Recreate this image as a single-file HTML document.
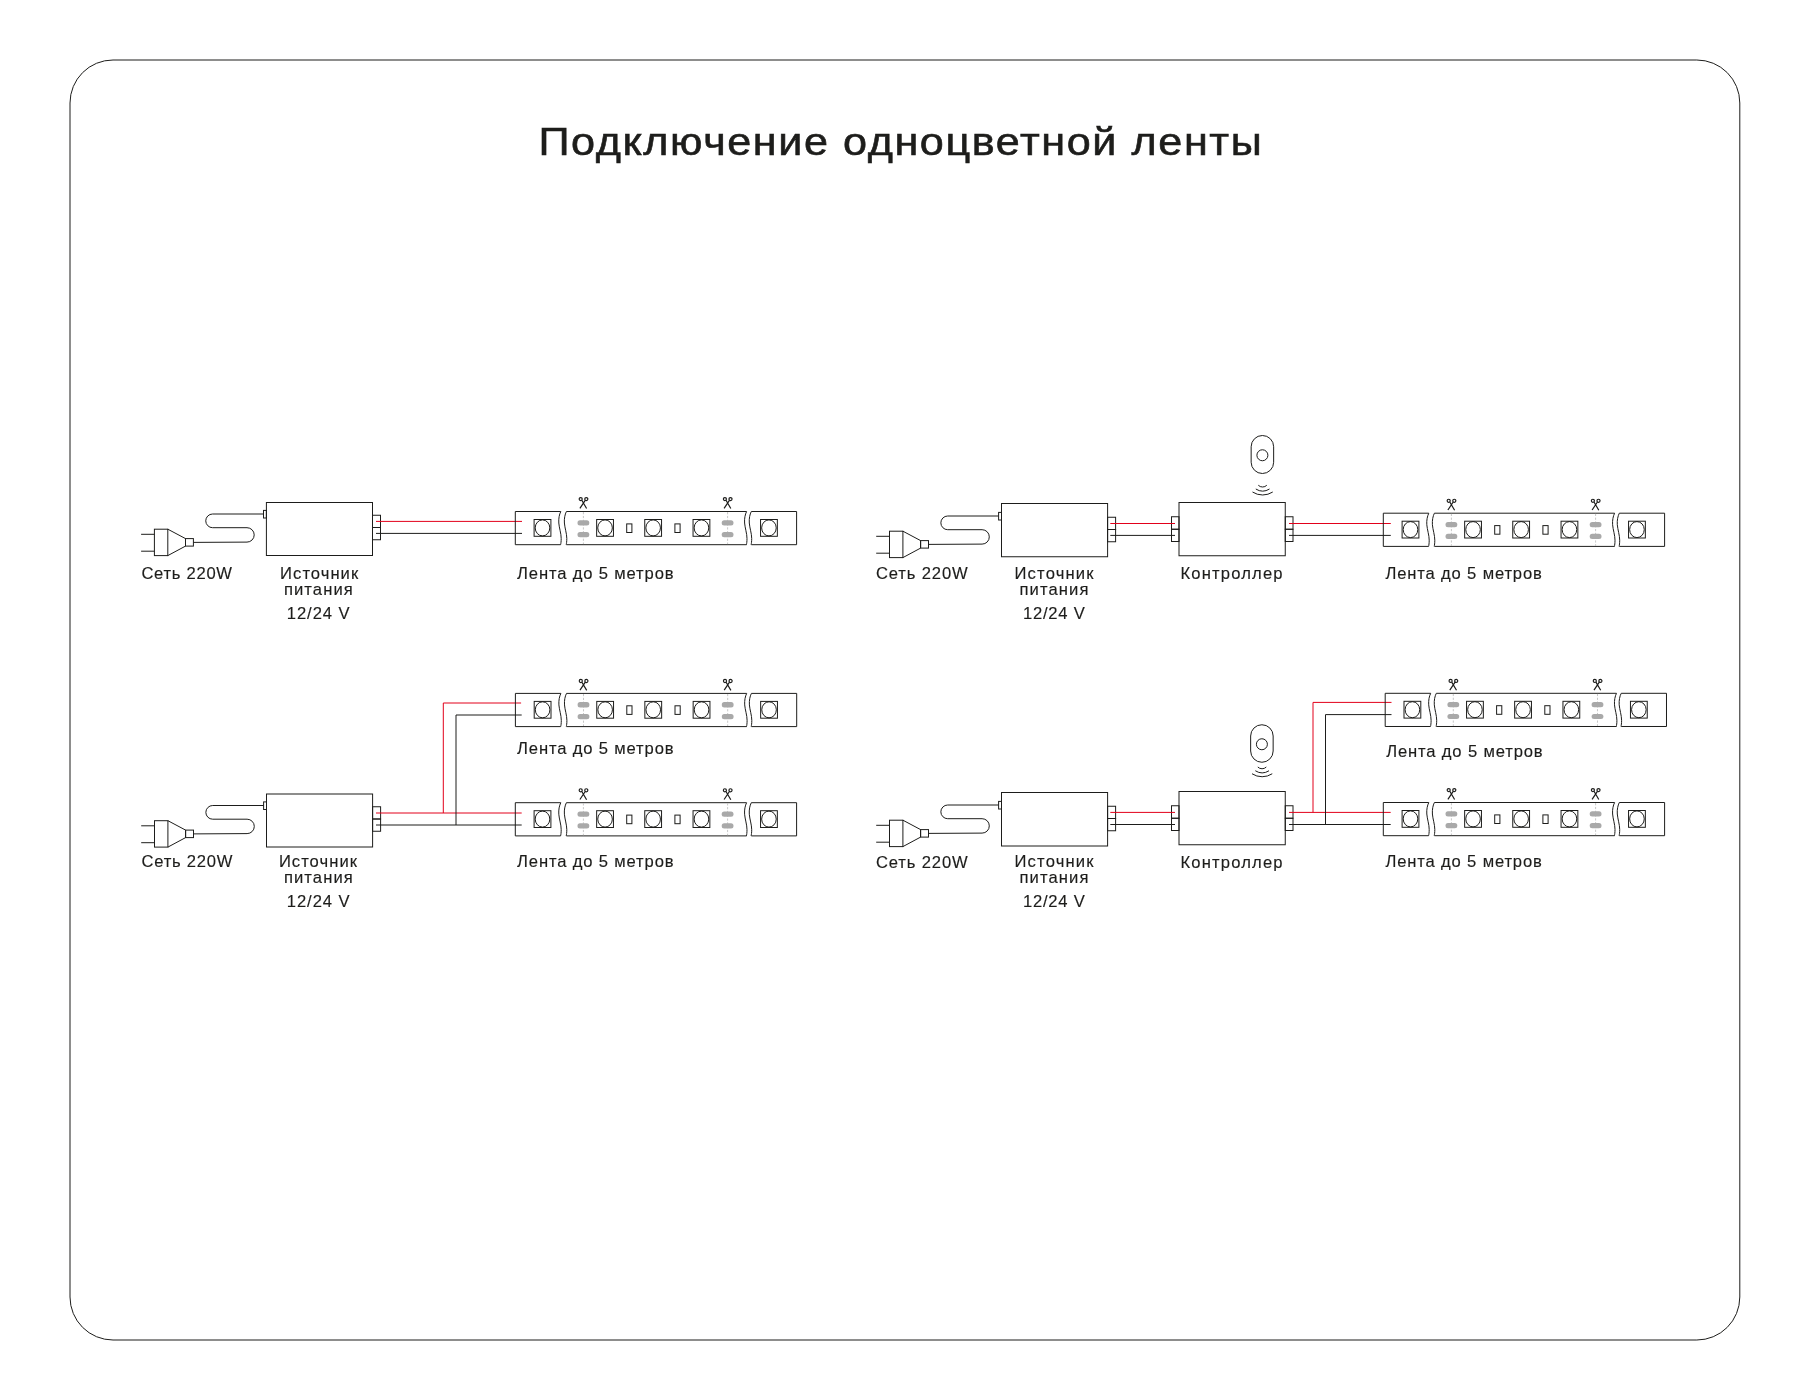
<!DOCTYPE html>
<html><head><meta charset="utf-8"><title>Подключение одноцветной ленты</title>
<style>
html,body{margin:0;padding:0;background:#fff;}
body{width:1800px;height:1400px;overflow:hidden;}
svg{display:block;}
text{font-family:"Liberation Sans", sans-serif;fill:#1d1d1b;}
.txt{opacity:0.999;}
</style></head><body>
<svg width="1800" height="1400" viewBox="0 0 1800 1400">
<g fill="none" stroke="#1d1d1b" stroke-width="1.0">
<rect x="70" y="60" width="1669.8" height="1280" rx="43" fill="none" stroke="#1d1d1b" stroke-width="1"/>
<g transform="translate(266.4,502.5)">
<path d="M-125.3,31.8 H-112 M-125.3,48.7 H-112"/>
<rect x="-112" y="26.7" width="13.4" height="26.4"/>
<path d="M-98.6,26.7 L-80.9,36.1 V43.6 L-98.6,53.1"/>
<rect x="-80.9" y="36.1" width="7.9" height="7.5"/>
<path d="M-73,39.9 L-19.4,39.6 A7.2,7.2 0 0 0 -19.4,25.2 L-53.8,25.2 A6.85,6.85 0 0 1 -53.8,11.5 L-2.9,11.5"/>
<rect x="-2.9" y="7.9" width="2.9" height="7.6"/>
<rect x="0" y="0" width="106.1" height="53"/>
<rect x="106.1" y="12.75" width="8" height="12.25"/>
<rect x="106.1" y="25" width="8" height="12.25"/>
</g>
<path d="M376,521.4 H522" stroke="#e2001a"/>
<path d="M376,533.4 H522" stroke="#1d1d1b"/>
<g transform="translate(515.3,511.5)"><path d="M45.5,0 H0 V33.2 H45.3"/>
<path d="M45.5,0 C44,3 43.2,7 43.5,11.5 C43.9,16.5 45.9,22 45.9,27 C45.9,30 45.6,32 45.3,33.2"/>
<path d="M51.1,0 H231.3 M51.1,33.2 H231.3"/>
<path d="M51.1,0 C49.6,3 48.8,7 49.1,11.5 C49.5,16.5 51.5,22 51.5,27 C51.5,30 51.2,32 50.9,33.2"/>
<path d="M231.3,0 C229.8,3 229,7 229.3,11.5 C229.7,16.5 231.7,22 231.7,27 C231.7,30 231.4,32 231.1,33.2"/>
<path d="M236,0 H281.3 V33.2 H236"/>
<path d="M236,0 C234.5,3 233.7,7 234,11.5 C234.4,16.5 236.4,22 236.4,27 C236.4,30 236.1,32 235.8,33.2"/>
<rect x="18.8" y="8" width="16.8" height="16.8"/>
<ellipse cx="27.2" cy="16.4" rx="7.3" ry="8.0"/>
<rect x="81.35" y="8" width="16.8" height="16.8"/>
<ellipse cx="89.75" cy="16.4" rx="7.3" ry="8.0"/>
<rect x="129.45" y="8" width="16.8" height="16.8"/>
<ellipse cx="137.85" cy="16.4" rx="7.3" ry="8.0"/>
<rect x="177.75" y="8" width="16.8" height="16.8"/>
<ellipse cx="186.15" cy="16.4" rx="7.3" ry="8.0"/>
<rect x="245.25" y="8" width="16.8" height="16.8"/>
<ellipse cx="253.65" cy="16.4" rx="7.3" ry="8.0"/>
<rect x="111.4" y="12.4" width="5.2" height="8.6"/>
<rect x="159.6" y="12.4" width="5.2" height="8.6"/>
<line x1="68.1" y1="0.6" x2="68.1" y2="32.6" stroke="#b9b9b9" stroke-width="0.8" stroke-dasharray="2.2,1.6"/>
<rect x="62.2" y="8.7" width="11.8" height="5.3" rx="2.5" fill="#a9a9a9" stroke="none"/>
<rect x="62.2" y="20.6" width="11.8" height="5.2" rx="2.5" fill="#a9a9a9" stroke="none"/>
<g transform="translate(68.1,0)" stroke-width="1.2"><circle cx="-2.7" cy="-12.4" r="1.55"/><circle cx="2.9" cy="-12.4" r="1.55"/><path d="M-1.6,-11.2 L3.2,-3.0 M1.8,-11.2 L-3.5,-3.2"/></g>
<line x1="212.3" y1="0.6" x2="212.3" y2="32.6" stroke="#b9b9b9" stroke-width="0.8" stroke-dasharray="2.2,1.6"/>
<rect x="206.4" y="8.7" width="11.8" height="5.3" rx="2.5" fill="#a9a9a9" stroke="none"/>
<rect x="206.4" y="20.6" width="11.8" height="5.2" rx="2.5" fill="#a9a9a9" stroke="none"/>
<g transform="translate(212.3,0)" stroke-width="1.2"><circle cx="-2.7" cy="-12.4" r="1.55"/><circle cx="2.9" cy="-12.4" r="1.55"/><path d="M-1.6,-11.2 L3.2,-3.0 M1.8,-11.2 L-3.5,-3.2"/></g></g>
<g transform="translate(1001.5,503.5)">
<path d="M-125.3,32.8 H-112 M-125.3,49.7 H-112"/>
<rect x="-112" y="27.7" width="13.4" height="26.4"/>
<path d="M-98.6,27.7 L-80.9,37.1 V44.6 L-98.6,54.1"/>
<rect x="-80.9" y="37.1" width="7.9" height="7.5"/>
<path d="M-73,40.9 L-19.4,40.6 A7.2,7.2 0 0 0 -19.4,26.2 L-53.8,26.2 A6.85,6.85 0 0 1 -53.8,12.5 L-2.9,12.5"/>
<rect x="-2.9" y="8.9" width="2.9" height="7.6"/>
<rect x="0" y="0" width="106.1" height="53.25"/>
<rect x="106.1" y="13.75" width="8" height="12.25"/>
<rect x="106.1" y="26" width="8" height="12.25"/>
</g>
<g transform="translate(1179,502.5)">
<rect x="0" y="0" width="106.25" height="53.25"/>
<rect x="-7.5" y="14.25" width="7.5" height="12.5"/>
<rect x="-7.5" y="26.75" width="7.5" height="12.25"/>
<rect x="106.25" y="14.25" width="7.75" height="12.5"/>
<rect x="106.25" y="26.75" width="7.75" height="12.25"/>
</g>
<g transform="translate(1262.4,435.5)">
<rect x="-11.25" y="0" width="22.5" height="38" rx="11.25"/>
<circle cx="0" cy="19.76" r="5.5"/>
<g transform="translate(0,0)">
<path d="M-4.1,49.75 A6,6 0 0 0 4.4,49.75"/>
<path d="M-6.6,53.5 A12.8,12.8 0 0 0 7.1,53.5"/>
<path d="M-9.9,56.5 A18.6,18.6 0 0 0 10.35,56.5"/>
</g></g>
<path d="M1110.3,523.5 H1175 M1289,523.5 H1390.8" stroke="#e2001a"/>
<path d="M1110.3,535.4 H1175 M1289,535.4 H1390.8" stroke="#1d1d1b"/>
<g transform="translate(1383.3,513.2)"><path d="M45.5,0 H0 V33.2 H45.3"/>
<path d="M45.5,0 C44,3 43.2,7 43.5,11.5 C43.9,16.5 45.9,22 45.9,27 C45.9,30 45.6,32 45.3,33.2"/>
<path d="M51.1,0 H231.3 M51.1,33.2 H231.3"/>
<path d="M51.1,0 C49.6,3 48.8,7 49.1,11.5 C49.5,16.5 51.5,22 51.5,27 C51.5,30 51.2,32 50.9,33.2"/>
<path d="M231.3,0 C229.8,3 229,7 229.3,11.5 C229.7,16.5 231.7,22 231.7,27 C231.7,30 231.4,32 231.1,33.2"/>
<path d="M236,0 H281.3 V33.2 H236"/>
<path d="M236,0 C234.5,3 233.7,7 234,11.5 C234.4,16.5 236.4,22 236.4,27 C236.4,30 236.1,32 235.8,33.2"/>
<rect x="18.8" y="8" width="16.8" height="16.8"/>
<ellipse cx="27.2" cy="16.4" rx="7.3" ry="8.0"/>
<rect x="81.35" y="8" width="16.8" height="16.8"/>
<ellipse cx="89.75" cy="16.4" rx="7.3" ry="8.0"/>
<rect x="129.45" y="8" width="16.8" height="16.8"/>
<ellipse cx="137.85" cy="16.4" rx="7.3" ry="8.0"/>
<rect x="177.75" y="8" width="16.8" height="16.8"/>
<ellipse cx="186.15" cy="16.4" rx="7.3" ry="8.0"/>
<rect x="245.25" y="8" width="16.8" height="16.8"/>
<ellipse cx="253.65" cy="16.4" rx="7.3" ry="8.0"/>
<rect x="111.4" y="12.4" width="5.2" height="8.6"/>
<rect x="159.6" y="12.4" width="5.2" height="8.6"/>
<line x1="68.1" y1="0.6" x2="68.1" y2="32.6" stroke="#b9b9b9" stroke-width="0.8" stroke-dasharray="2.2,1.6"/>
<rect x="62.2" y="8.7" width="11.8" height="5.3" rx="2.5" fill="#a9a9a9" stroke="none"/>
<rect x="62.2" y="20.6" width="11.8" height="5.2" rx="2.5" fill="#a9a9a9" stroke="none"/>
<g transform="translate(68.1,0)" stroke-width="1.2"><circle cx="-2.7" cy="-12.4" r="1.55"/><circle cx="2.9" cy="-12.4" r="1.55"/><path d="M-1.6,-11.2 L3.2,-3.0 M1.8,-11.2 L-3.5,-3.2"/></g>
<line x1="212.3" y1="0.6" x2="212.3" y2="32.6" stroke="#b9b9b9" stroke-width="0.8" stroke-dasharray="2.2,1.6"/>
<rect x="206.4" y="8.7" width="11.8" height="5.3" rx="2.5" fill="#a9a9a9" stroke="none"/>
<rect x="206.4" y="20.6" width="11.8" height="5.2" rx="2.5" fill="#a9a9a9" stroke="none"/>
<g transform="translate(212.3,0)" stroke-width="1.2"><circle cx="-2.7" cy="-12.4" r="1.55"/><circle cx="2.9" cy="-12.4" r="1.55"/><path d="M-1.6,-11.2 L3.2,-3.0 M1.8,-11.2 L-3.5,-3.2"/></g></g>
<g transform="translate(266.5,794)">
<path d="M-125.3,31.8 H-112 M-125.3,48.7 H-112"/>
<rect x="-112" y="26.7" width="13.4" height="26.4"/>
<path d="M-98.6,26.7 L-80.9,36.1 V43.6 L-98.6,53.1"/>
<rect x="-80.9" y="36.1" width="7.9" height="7.5"/>
<path d="M-73,39.9 L-19.4,39.6 A7.2,7.2 0 0 0 -19.4,25.2 L-53.8,25.2 A6.85,6.85 0 0 1 -53.8,11.5 L-2.9,11.5"/>
<rect x="-2.9" y="7.9" width="2.9" height="7.6"/>
<rect x="0" y="0" width="106.1" height="53"/>
<rect x="106.1" y="12.75" width="8" height="12.25"/>
<rect x="106.1" y="25" width="8" height="12.25"/>
</g>
<path d="M376,813 H521.7 M443.3,813 V703 H521.1" stroke="#e2001a"/>
<path d="M376,825 H521.7 M456,825 V715 H521.7" stroke="#1d1d1b"/>
<g transform="translate(515.4,693.4)"><path d="M45.5,0 H0 V33.2 H45.3"/>
<path d="M45.5,0 C44,3 43.2,7 43.5,11.5 C43.9,16.5 45.9,22 45.9,27 C45.9,30 45.6,32 45.3,33.2"/>
<path d="M51.1,0 H231.3 M51.1,33.2 H231.3"/>
<path d="M51.1,0 C49.6,3 48.8,7 49.1,11.5 C49.5,16.5 51.5,22 51.5,27 C51.5,30 51.2,32 50.9,33.2"/>
<path d="M231.3,0 C229.8,3 229,7 229.3,11.5 C229.7,16.5 231.7,22 231.7,27 C231.7,30 231.4,32 231.1,33.2"/>
<path d="M236,0 H281.3 V33.2 H236"/>
<path d="M236,0 C234.5,3 233.7,7 234,11.5 C234.4,16.5 236.4,22 236.4,27 C236.4,30 236.1,32 235.8,33.2"/>
<rect x="18.8" y="8" width="16.8" height="16.8"/>
<ellipse cx="27.2" cy="16.4" rx="7.3" ry="8.0"/>
<rect x="81.35" y="8" width="16.8" height="16.8"/>
<ellipse cx="89.75" cy="16.4" rx="7.3" ry="8.0"/>
<rect x="129.45" y="8" width="16.8" height="16.8"/>
<ellipse cx="137.85" cy="16.4" rx="7.3" ry="8.0"/>
<rect x="177.75" y="8" width="16.8" height="16.8"/>
<ellipse cx="186.15" cy="16.4" rx="7.3" ry="8.0"/>
<rect x="245.25" y="8" width="16.8" height="16.8"/>
<ellipse cx="253.65" cy="16.4" rx="7.3" ry="8.0"/>
<rect x="111.4" y="12.4" width="5.2" height="8.6"/>
<rect x="159.6" y="12.4" width="5.2" height="8.6"/>
<line x1="68.1" y1="0.6" x2="68.1" y2="32.6" stroke="#b9b9b9" stroke-width="0.8" stroke-dasharray="2.2,1.6"/>
<rect x="62.2" y="8.7" width="11.8" height="5.3" rx="2.5" fill="#a9a9a9" stroke="none"/>
<rect x="62.2" y="20.6" width="11.8" height="5.2" rx="2.5" fill="#a9a9a9" stroke="none"/>
<g transform="translate(68.1,0)" stroke-width="1.2"><circle cx="-2.7" cy="-12.4" r="1.55"/><circle cx="2.9" cy="-12.4" r="1.55"/><path d="M-1.6,-11.2 L3.2,-3.0 M1.8,-11.2 L-3.5,-3.2"/></g>
<line x1="212.3" y1="0.6" x2="212.3" y2="32.6" stroke="#b9b9b9" stroke-width="0.8" stroke-dasharray="2.2,1.6"/>
<rect x="206.4" y="8.7" width="11.8" height="5.3" rx="2.5" fill="#a9a9a9" stroke="none"/>
<rect x="206.4" y="20.6" width="11.8" height="5.2" rx="2.5" fill="#a9a9a9" stroke="none"/>
<g transform="translate(212.3,0)" stroke-width="1.2"><circle cx="-2.7" cy="-12.4" r="1.55"/><circle cx="2.9" cy="-12.4" r="1.55"/><path d="M-1.6,-11.2 L3.2,-3.0 M1.8,-11.2 L-3.5,-3.2"/></g></g>
<g transform="translate(515.3,802.7)"><path d="M45.5,0 H0 V33.2 H45.3"/>
<path d="M45.5,0 C44,3 43.2,7 43.5,11.5 C43.9,16.5 45.9,22 45.9,27 C45.9,30 45.6,32 45.3,33.2"/>
<path d="M51.1,0 H231.3 M51.1,33.2 H231.3"/>
<path d="M51.1,0 C49.6,3 48.8,7 49.1,11.5 C49.5,16.5 51.5,22 51.5,27 C51.5,30 51.2,32 50.9,33.2"/>
<path d="M231.3,0 C229.8,3 229,7 229.3,11.5 C229.7,16.5 231.7,22 231.7,27 C231.7,30 231.4,32 231.1,33.2"/>
<path d="M236,0 H281.3 V33.2 H236"/>
<path d="M236,0 C234.5,3 233.7,7 234,11.5 C234.4,16.5 236.4,22 236.4,27 C236.4,30 236.1,32 235.8,33.2"/>
<rect x="18.8" y="8" width="16.8" height="16.8"/>
<ellipse cx="27.2" cy="16.4" rx="7.3" ry="8.0"/>
<rect x="81.35" y="8" width="16.8" height="16.8"/>
<ellipse cx="89.75" cy="16.4" rx="7.3" ry="8.0"/>
<rect x="129.45" y="8" width="16.8" height="16.8"/>
<ellipse cx="137.85" cy="16.4" rx="7.3" ry="8.0"/>
<rect x="177.75" y="8" width="16.8" height="16.8"/>
<ellipse cx="186.15" cy="16.4" rx="7.3" ry="8.0"/>
<rect x="245.25" y="8" width="16.8" height="16.8"/>
<ellipse cx="253.65" cy="16.4" rx="7.3" ry="8.0"/>
<rect x="111.4" y="12.4" width="5.2" height="8.6"/>
<rect x="159.6" y="12.4" width="5.2" height="8.6"/>
<line x1="68.1" y1="0.6" x2="68.1" y2="32.6" stroke="#b9b9b9" stroke-width="0.8" stroke-dasharray="2.2,1.6"/>
<rect x="62.2" y="8.7" width="11.8" height="5.3" rx="2.5" fill="#a9a9a9" stroke="none"/>
<rect x="62.2" y="20.6" width="11.8" height="5.2" rx="2.5" fill="#a9a9a9" stroke="none"/>
<g transform="translate(68.1,0)" stroke-width="1.2"><circle cx="-2.7" cy="-12.4" r="1.55"/><circle cx="2.9" cy="-12.4" r="1.55"/><path d="M-1.6,-11.2 L3.2,-3.0 M1.8,-11.2 L-3.5,-3.2"/></g>
<line x1="212.3" y1="0.6" x2="212.3" y2="32.6" stroke="#b9b9b9" stroke-width="0.8" stroke-dasharray="2.2,1.6"/>
<rect x="206.4" y="8.7" width="11.8" height="5.3" rx="2.5" fill="#a9a9a9" stroke="none"/>
<rect x="206.4" y="20.6" width="11.8" height="5.2" rx="2.5" fill="#a9a9a9" stroke="none"/>
<g transform="translate(212.3,0)" stroke-width="1.2"><circle cx="-2.7" cy="-12.4" r="1.55"/><circle cx="2.9" cy="-12.4" r="1.55"/><path d="M-1.6,-11.2 L3.2,-3.0 M1.8,-11.2 L-3.5,-3.2"/></g></g>
<g transform="translate(1001.5,792.5)">
<path d="M-125.3,32.8 H-112 M-125.3,49.7 H-112"/>
<rect x="-112" y="27.7" width="13.4" height="26.4"/>
<path d="M-98.6,27.7 L-80.9,37.1 V44.6 L-98.6,54.1"/>
<rect x="-80.9" y="37.1" width="7.9" height="7.5"/>
<path d="M-73,40.9 L-19.4,40.6 A7.2,7.2 0 0 0 -19.4,26.2 L-53.8,26.2 A6.85,6.85 0 0 1 -53.8,12.5 L-2.9,12.5"/>
<rect x="-2.9" y="8.9" width="2.9" height="7.6"/>
<rect x="0" y="0" width="106.1" height="53.5"/>
<rect x="106.1" y="13.75" width="8" height="12.25"/>
<rect x="106.1" y="26" width="8" height="12.25"/>
</g>
<g transform="translate(1179,791.5)">
<rect x="0" y="0" width="106.25" height="53.25"/>
<rect x="-7.5" y="14.25" width="7.5" height="12.5"/>
<rect x="-7.5" y="26.75" width="7.5" height="12.25"/>
<rect x="106.25" y="14.25" width="7.75" height="12.5"/>
<rect x="106.25" y="26.75" width="7.75" height="12.25"/>
</g>
<g transform="translate(1261.9,724.75)">
<rect x="-11.25" y="0" width="22.5" height="37.5" rx="11.25"/>
<circle cx="0" cy="19.5" r="5.5"/>
<g transform="translate(0,-7.5)">
<path d="M-4.1,49.75 A6,6 0 0 0 4.4,49.75"/>
<path d="M-6.6,53.5 A12.8,12.8 0 0 0 7.1,53.5"/>
<path d="M-9.9,56.5 A18.6,18.6 0 0 0 10.35,56.5"/>
</g></g>
<path d="M1110.3,812.4 H1175 M1289,812.4 H1390.7 M1313,812.4 V702.4 H1391.5" stroke="#e2001a"/>
<path d="M1110.3,824.5 H1175 M1289,824.5 H1390.7 M1325.5,824.5 V714.6 H1391.5" stroke="#1d1d1b"/>
<g transform="translate(1385.2,693.3)"><path d="M45.5,0 H0 V33.2 H45.3"/>
<path d="M45.5,0 C44,3 43.2,7 43.5,11.5 C43.9,16.5 45.9,22 45.9,27 C45.9,30 45.6,32 45.3,33.2"/>
<path d="M51.1,0 H231.3 M51.1,33.2 H231.3"/>
<path d="M51.1,0 C49.6,3 48.8,7 49.1,11.5 C49.5,16.5 51.5,22 51.5,27 C51.5,30 51.2,32 50.9,33.2"/>
<path d="M231.3,0 C229.8,3 229,7 229.3,11.5 C229.7,16.5 231.7,22 231.7,27 C231.7,30 231.4,32 231.1,33.2"/>
<path d="M236,0 H281.3 V33.2 H236"/>
<path d="M236,0 C234.5,3 233.7,7 234,11.5 C234.4,16.5 236.4,22 236.4,27 C236.4,30 236.1,32 235.8,33.2"/>
<rect x="18.8" y="8" width="16.8" height="16.8"/>
<ellipse cx="27.2" cy="16.4" rx="7.3" ry="8.0"/>
<rect x="81.35" y="8" width="16.8" height="16.8"/>
<ellipse cx="89.75" cy="16.4" rx="7.3" ry="8.0"/>
<rect x="129.45" y="8" width="16.8" height="16.8"/>
<ellipse cx="137.85" cy="16.4" rx="7.3" ry="8.0"/>
<rect x="177.75" y="8" width="16.8" height="16.8"/>
<ellipse cx="186.15" cy="16.4" rx="7.3" ry="8.0"/>
<rect x="245.25" y="8" width="16.8" height="16.8"/>
<ellipse cx="253.65" cy="16.4" rx="7.3" ry="8.0"/>
<rect x="111.4" y="12.4" width="5.2" height="8.6"/>
<rect x="159.6" y="12.4" width="5.2" height="8.6"/>
<line x1="68.1" y1="0.6" x2="68.1" y2="32.6" stroke="#b9b9b9" stroke-width="0.8" stroke-dasharray="2.2,1.6"/>
<rect x="62.2" y="8.7" width="11.8" height="5.3" rx="2.5" fill="#a9a9a9" stroke="none"/>
<rect x="62.2" y="20.6" width="11.8" height="5.2" rx="2.5" fill="#a9a9a9" stroke="none"/>
<g transform="translate(68.1,0)" stroke-width="1.2"><circle cx="-2.7" cy="-12.4" r="1.55"/><circle cx="2.9" cy="-12.4" r="1.55"/><path d="M-1.6,-11.2 L3.2,-3.0 M1.8,-11.2 L-3.5,-3.2"/></g>
<line x1="212.3" y1="0.6" x2="212.3" y2="32.6" stroke="#b9b9b9" stroke-width="0.8" stroke-dasharray="2.2,1.6"/>
<rect x="206.4" y="8.7" width="11.8" height="5.3" rx="2.5" fill="#a9a9a9" stroke="none"/>
<rect x="206.4" y="20.6" width="11.8" height="5.2" rx="2.5" fill="#a9a9a9" stroke="none"/>
<g transform="translate(212.3,0)" stroke-width="1.2"><circle cx="-2.7" cy="-12.4" r="1.55"/><circle cx="2.9" cy="-12.4" r="1.55"/><path d="M-1.6,-11.2 L3.2,-3.0 M1.8,-11.2 L-3.5,-3.2"/></g></g>
<g transform="translate(1383.3,802.5)"><path d="M45.5,0 H0 V33.2 H45.3"/>
<path d="M45.5,0 C44,3 43.2,7 43.5,11.5 C43.9,16.5 45.9,22 45.9,27 C45.9,30 45.6,32 45.3,33.2"/>
<path d="M51.1,0 H231.3 M51.1,33.2 H231.3"/>
<path d="M51.1,0 C49.6,3 48.8,7 49.1,11.5 C49.5,16.5 51.5,22 51.5,27 C51.5,30 51.2,32 50.9,33.2"/>
<path d="M231.3,0 C229.8,3 229,7 229.3,11.5 C229.7,16.5 231.7,22 231.7,27 C231.7,30 231.4,32 231.1,33.2"/>
<path d="M236,0 H281.3 V33.2 H236"/>
<path d="M236,0 C234.5,3 233.7,7 234,11.5 C234.4,16.5 236.4,22 236.4,27 C236.4,30 236.1,32 235.8,33.2"/>
<rect x="18.8" y="8" width="16.8" height="16.8"/>
<ellipse cx="27.2" cy="16.4" rx="7.3" ry="8.0"/>
<rect x="81.35" y="8" width="16.8" height="16.8"/>
<ellipse cx="89.75" cy="16.4" rx="7.3" ry="8.0"/>
<rect x="129.45" y="8" width="16.8" height="16.8"/>
<ellipse cx="137.85" cy="16.4" rx="7.3" ry="8.0"/>
<rect x="177.75" y="8" width="16.8" height="16.8"/>
<ellipse cx="186.15" cy="16.4" rx="7.3" ry="8.0"/>
<rect x="245.25" y="8" width="16.8" height="16.8"/>
<ellipse cx="253.65" cy="16.4" rx="7.3" ry="8.0"/>
<rect x="111.4" y="12.4" width="5.2" height="8.6"/>
<rect x="159.6" y="12.4" width="5.2" height="8.6"/>
<line x1="68.1" y1="0.6" x2="68.1" y2="32.6" stroke="#b9b9b9" stroke-width="0.8" stroke-dasharray="2.2,1.6"/>
<rect x="62.2" y="8.7" width="11.8" height="5.3" rx="2.5" fill="#a9a9a9" stroke="none"/>
<rect x="62.2" y="20.6" width="11.8" height="5.2" rx="2.5" fill="#a9a9a9" stroke="none"/>
<g transform="translate(68.1,0)" stroke-width="1.2"><circle cx="-2.7" cy="-12.4" r="1.55"/><circle cx="2.9" cy="-12.4" r="1.55"/><path d="M-1.6,-11.2 L3.2,-3.0 M1.8,-11.2 L-3.5,-3.2"/></g>
<line x1="212.3" y1="0.6" x2="212.3" y2="32.6" stroke="#b9b9b9" stroke-width="0.8" stroke-dasharray="2.2,1.6"/>
<rect x="206.4" y="8.7" width="11.8" height="5.3" rx="2.5" fill="#a9a9a9" stroke="none"/>
<rect x="206.4" y="20.6" width="11.8" height="5.2" rx="2.5" fill="#a9a9a9" stroke="none"/>
<g transform="translate(212.3,0)" stroke-width="1.2"><circle cx="-2.7" cy="-12.4" r="1.55"/><circle cx="2.9" cy="-12.4" r="1.55"/><path d="M-1.6,-11.2 L3.2,-3.0 M1.8,-11.2 L-3.5,-3.2"/></g></g>
</g>
<g class="txt">
<text transform="translate(538.4,155.3) scale(1.08,0.96)" x="0" y="0" font-size="40" letter-spacing="1.45" stroke="#1d1d1b" stroke-width="0.6">Подключение одноцветной ленты</text>
<text x="141.4" y="578.6" font-size="16.6" letter-spacing="0.72" stroke="#1d1d1b" stroke-width="0.15">Сеть 220W</text>
<text x="280.1" y="578.8" font-size="16.6" letter-spacing="1.03" stroke="#1d1d1b" stroke-width="0.15">Источник</text>
<text x="283.9" y="594.9" font-size="16.6" letter-spacing="1.1" stroke="#1d1d1b" stroke-width="0.15">питания</text>
<text x="286.8" y="618.7" font-size="16.6" letter-spacing="0.93" stroke="#1d1d1b" stroke-width="0.15">12/24 V</text>
<text x="517.1" y="578.75" font-size="16.6" letter-spacing="0.85" stroke="#1d1d1b" stroke-width="0.15">Лента до 5 метров</text>
<text x="876" y="578.6" font-size="16.6" letter-spacing="0.85" stroke="#1d1d1b" stroke-width="0.15">Сеть 220W</text>
<text x="1014.5" y="578.75" font-size="16.6" letter-spacing="1.17" stroke="#1d1d1b" stroke-width="0.15">Источник</text>
<text x="1019.5" y="594.5" font-size="16.6" letter-spacing="1.1" stroke="#1d1d1b" stroke-width="0.15">питания</text>
<text x="1023" y="618.5" font-size="16.6" letter-spacing="0.76" stroke="#1d1d1b" stroke-width="0.15">12/24 V</text>
<text x="1180.5" y="579" font-size="16.6" letter-spacing="1.16" stroke="#1d1d1b" stroke-width="0.15">Контроллер</text>
<text x="1385.4" y="578.5" font-size="16.6" letter-spacing="0.85" stroke="#1d1d1b" stroke-width="0.15">Лента до 5 метров</text>
<text x="141.6" y="867" font-size="16.6" letter-spacing="0.73" stroke="#1d1d1b" stroke-width="0.15">Сеть 220W</text>
<text x="278.9" y="867" font-size="16.6" letter-spacing="1.03" stroke="#1d1d1b" stroke-width="0.15">Источник</text>
<text x="283.9" y="882.7" font-size="16.6" letter-spacing="1.1" stroke="#1d1d1b" stroke-width="0.15">питания</text>
<text x="286.8" y="906.7" font-size="16.6" letter-spacing="0.93" stroke="#1d1d1b" stroke-width="0.15">12/24 V</text>
<text x="517.1" y="753.75" font-size="16.6" letter-spacing="0.85" stroke="#1d1d1b" stroke-width="0.15">Лента до 5 метров</text>
<text x="517.1" y="866.8" font-size="16.6" letter-spacing="0.85" stroke="#1d1d1b" stroke-width="0.15">Лента до 5 метров</text>
<text x="876" y="867.6" font-size="16.6" letter-spacing="0.85" stroke="#1d1d1b" stroke-width="0.15">Сеть 220W</text>
<text x="1014.5" y="866.75" font-size="16.6" letter-spacing="1.17" stroke="#1d1d1b" stroke-width="0.15">Источник</text>
<text x="1019.5" y="882.75" font-size="16.6" letter-spacing="1.1" stroke="#1d1d1b" stroke-width="0.15">питания</text>
<text x="1023" y="906.75" font-size="16.6" letter-spacing="0.76" stroke="#1d1d1b" stroke-width="0.15">12/24 V</text>
<text x="1180.5" y="867.5" font-size="16.6" letter-spacing="1.16" stroke="#1d1d1b" stroke-width="0.15">Контроллер</text>
<text x="1386.2" y="756.8" font-size="16.6" letter-spacing="0.85" stroke="#1d1d1b" stroke-width="0.15">Лента до 5 метров</text>
<text x="1385.4" y="867.4" font-size="16.6" letter-spacing="0.85" stroke="#1d1d1b" stroke-width="0.15">Лента до 5 метров</text>
</g>
</svg>
</body></html>
